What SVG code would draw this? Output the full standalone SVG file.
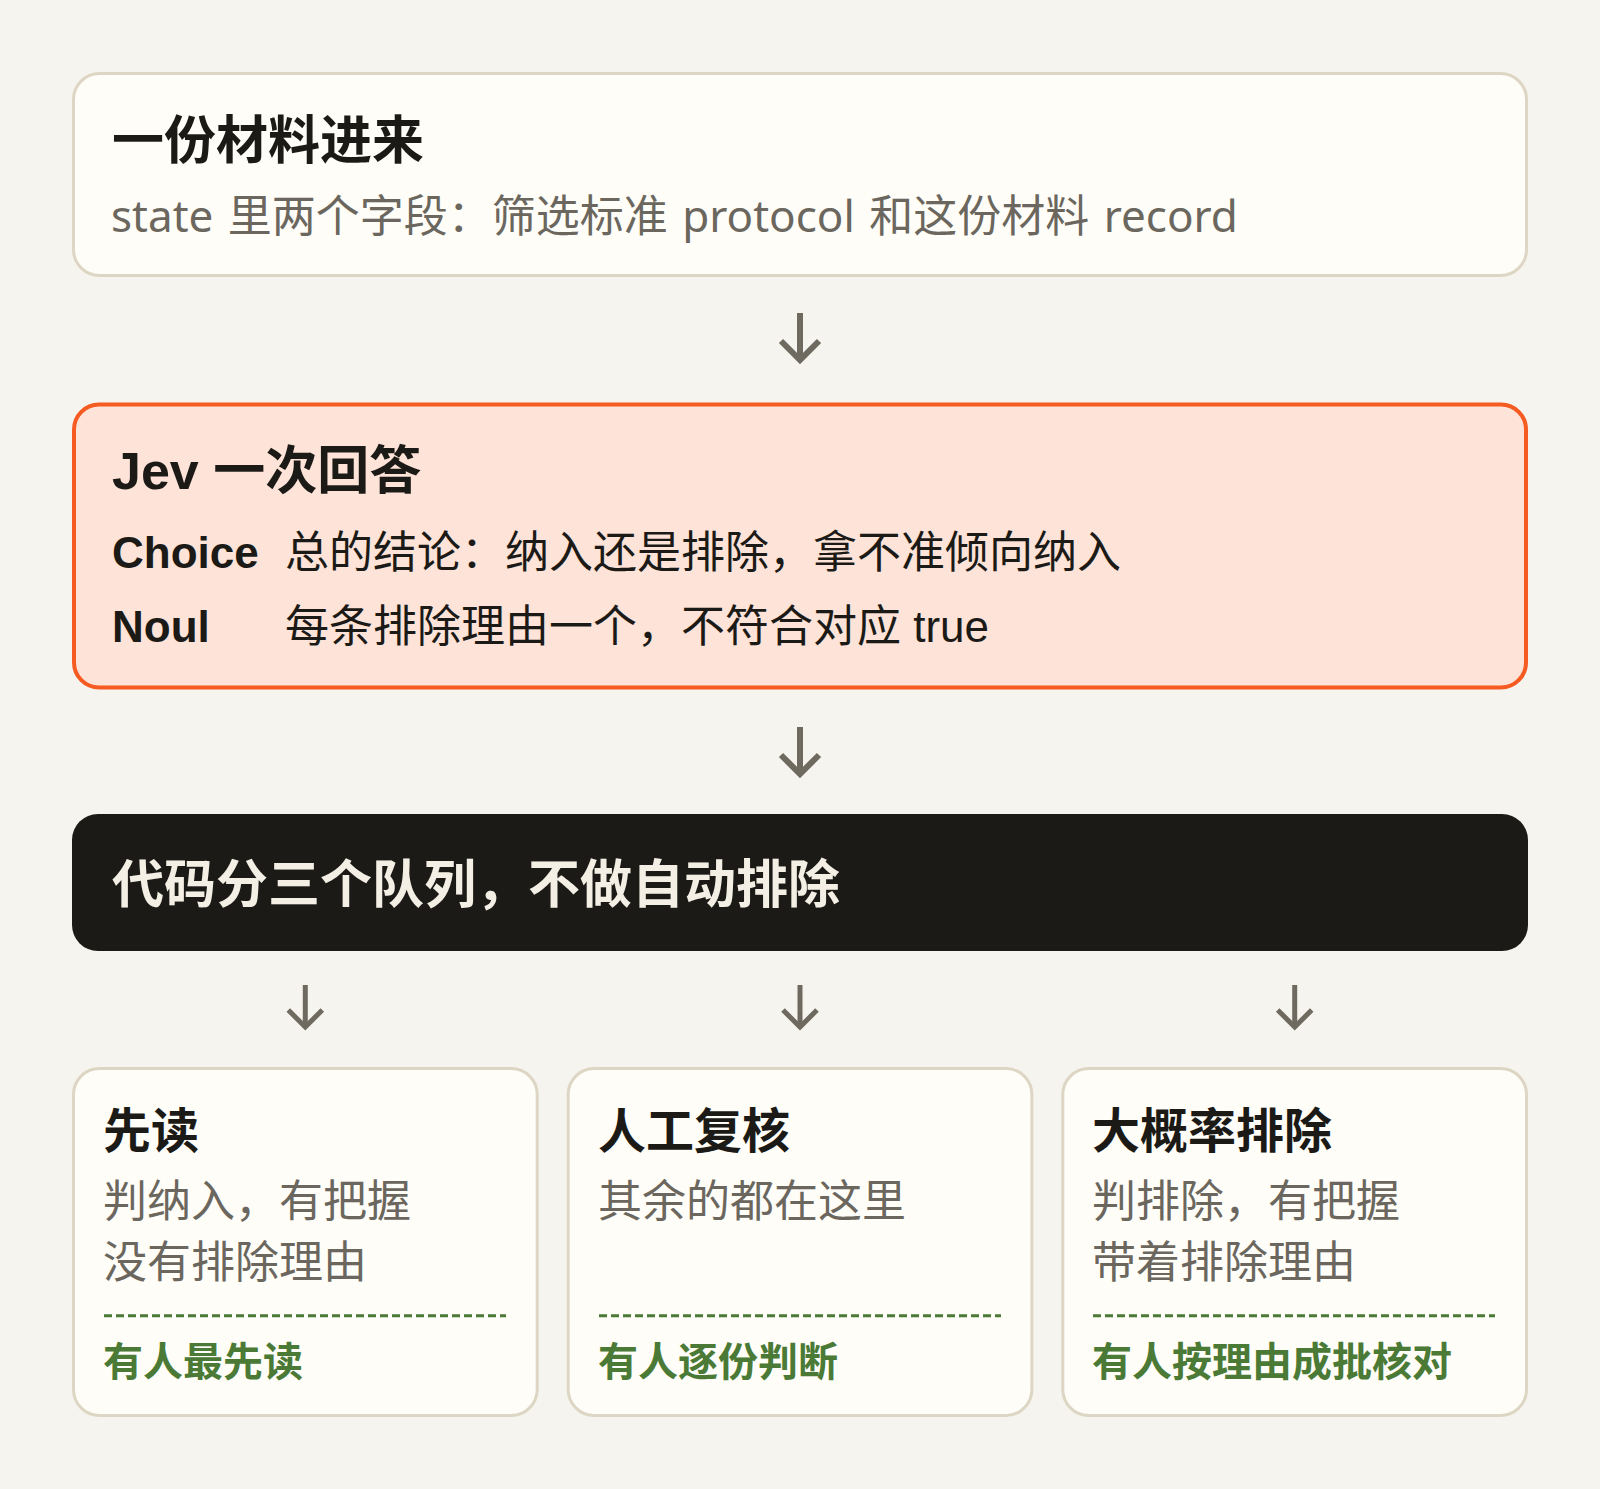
<svg xmlns="http://www.w3.org/2000/svg" width="1600" height="1489" viewBox="0 0 1600 1489">
<defs>
<style>
text{font-family:"Liberation Sans","Noto Sans CJK SC",sans-serif;}
.card{fill:#fefdf8;stroke:#ddd6c4;stroke-width:3;}
.h1{font-size:52px;font-weight:700;fill:#1c1a16;}
.sub{font-family:"Noto Sans","Noto Sans CJK SC",sans-serif;font-size:44px;fill:#6b675e;word-spacing:3px;}
.lbl{font-size:44px;font-weight:700;fill:#1c1a16;}
.txt{font-size:44px;fill:#1c1a16;}
.ct{font-size:48px;font-weight:700;fill:#1c1a16;}
.cb{font-size:44px;fill:#6b675e;}
.cf{font-size:40px;font-weight:700;fill:#4a7a36;}
.dash{stroke:#4a7a36;stroke-width:3;stroke-dasharray:8 4;fill:none;}
.arr{stroke:#6e6a5f;fill:none;stroke-linecap:butt;stroke-linejoin:miter;}
</style>
</defs>
<rect width="1600" height="1489" fill="#f6f4ee"/>
<g id="connectors">
<g class="arr" stroke-width="6">
<line x1="800" y1="313" x2="800" y2="360"/>
<polyline points="781,341 800,360 819,341"/>
<line x1="800" y1="727" x2="800" y2="774"/>
<polyline points="781,755 800,774 819,755"/>
</g>
<g class="arr" stroke-width="5">
<line x1="305.3" y1="985" x2="305.3" y2="1028"/>
<polyline points="288.3,1010 305.3,1027 322.3,1010"/>
<line x1="800" y1="985" x2="800" y2="1028"/>
<polyline points="783,1010 800,1027 817,1010"/>
<line x1="1294.7" y1="985" x2="1294.7" y2="1028"/>
<polyline points="1277.7,1010 1294.7,1027 1311.7,1010"/>
</g>
</g>
<g id="node-input">
<rect class="card" x="73.5" y="73.5" width="1453" height="202" rx="26"/>
<text class="h1" x="112" y="159">一份材料进来</text>
<text class="sub" x="111" y="232">state 里两个字段：筛选标准 protocol 和这份材料 record</text>
</g>
<g id="node-jev">
<rect x="74" y="404.5" width="1452" height="283" rx="25" fill="#fde3d8" stroke="#f65b22" stroke-width="4"/>
<text class="h1" x="112" y="489">Jev 一次回答</text>
<text class="lbl" x="112" y="568">Choice</text>
<text class="txt" x="285" y="568">总的结论：纳入还是排除，拿不准倾向纳入</text>
<text class="lbl" x="112" y="642">Noul</text>
<text class="txt" x="285" y="642">每条排除理由一个，不符合对应 true</text>
</g>
<g id="node-code">
<rect x="72" y="814" width="1456" height="137" rx="26" fill="#1c1a16"/>
<text class="h1" x="112" y="903" style="fill:#f3efe4">代码分三个队列，不做自动排除</text>
</g>
<g id="node-first">
<rect class="card" x="73.5" y="1068.5" width="463.7" height="347" rx="26"/>
<text class="ct" x="103" y="1148">先读</text>
<text class="cb" x="103" y="1217">判纳入，有把握</text>
<text class="cb" x="103" y="1278">没有排除理由</text>
<line class="dash" x1="104" y1="1315.7" x2="506" y2="1315.7"/>
<text class="cf" x="103" y="1376">有人最先读</text>
</g>
<g id="node-review">
<rect class="card" x="568.2" y="1068.5" width="463.7" height="347" rx="26"/>
<text class="ct" x="598" y="1148">人工复核</text>
<text class="cb" x="598" y="1217">其余的都在这里</text>
<line class="dash" x1="599" y1="1315.7" x2="1001" y2="1315.7"/>
<text class="cf" x="598" y="1376">有人逐份判断</text>
</g>
<g id="node-exclude">
<rect class="card" x="1062.8" y="1068.5" width="463.7" height="347" rx="26"/>
<text class="ct" x="1092" y="1148">大概率排除</text>
<text class="cb" x="1092" y="1217">判排除，有把握</text>
<text class="cb" x="1092" y="1278">带着排除理由</text>
<line class="dash" x1="1093" y1="1315.7" x2="1495" y2="1315.7"/>
<text class="cf" x="1092" y="1376">有人按理由成批核对</text>
</g>
</svg>
